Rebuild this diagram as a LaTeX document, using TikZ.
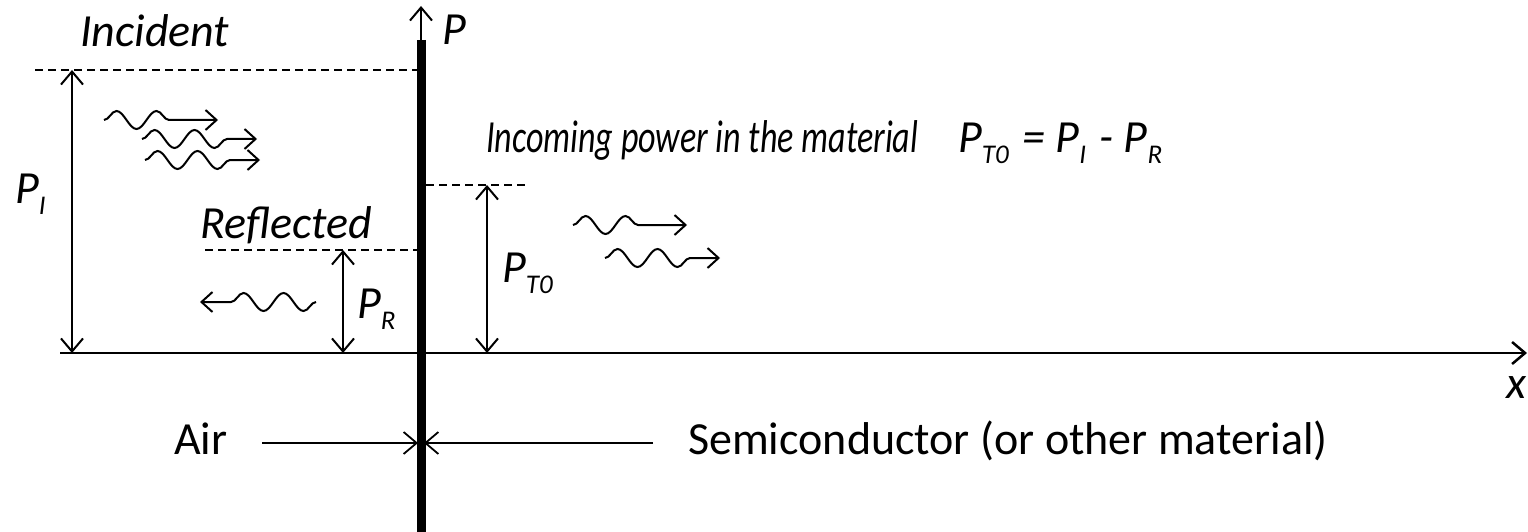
\documentclass[tikz,border=0pt]{standalone}
\usepackage{fontspec}
\setmainfont{Carlito}
\usepackage{tikz}
\usetikzlibrary{positioning, arrows.meta, decorations.pathmorphing}
\newcommand{\subidx}[1]{\raisebox{-11pt}{\fontsize{27}{27}\selectfont #1}\hspace{3pt}}

\begin{document}
\begin{tikzpicture}[x=1pt, y=-1pt, font=\fontsize{46}{52}\selectfont,
  barb/.style={-{Straight Barb[length=13pt, width=22pt]}, line width=2pt},
  dim/.style={{Straight Barb[length=13pt, width=22pt]}-{Straight Barb[length=13pt, width=22pt]}, line width=2pt},
  level/.style={line width=1.5pt, dash pattern=on 8pt off 5pt},
  wave/.style={line width=2pt, -{Straight Barb[length=11pt, width=20pt]}, decorate,
    decoration={snake, amplitude=9pt, segment length=40pt, post length=30pt}},
  lbl/.style={anchor=base west, inner sep=0pt, font=\fontsize{46}{52}\selectfont\itshape}]
  \useasboundingbox (0,0) rectangle (1528,532);

  % interface and axes
  \coordinate (bartop) at (421,40);
  \coordinate (barbot) at (421,540);
  \coordinate (ptip) at (421,6);
  \coordinate (xstart) at (60,353);
  \coordinate (xtip) at (1527,353);
  \draw[line width=9pt] (bartop) -- (barbot);
  \draw[barb] (bartop) -- (ptip);
  \draw[barb, line width=2.5pt] (xstart) -- (xtip);
  \node[lbl] (plbl) at (442,45) {P};
  \node[lbl] (xlbl) at (1506,398) {x};

  % power levels
  \coordinate (incL) at (35,70);    \coordinate (incR) at (417,70);
  \coordinate (refL) at (205,250);  \coordinate (refR) at (417,250);
  \coordinate (trL) at (426,185);   \coordinate (trR) at (528,185);
  \draw[level] (incL) -- (incR);
  \draw[level] (refL) -- (refR);
  \draw[level] (trL) -- (trR);

  \coordinate (piT) at (72,70);   \coordinate (piB) at (72,353);
  \coordinate (prT) at (343,250); \coordinate (prB) at (343,353);
  \coordinate (ptT) at (487,185); \coordinate (ptB) at (487,353);
  \draw[dim] (piT) -- (piB);
  \draw[dim] (prT) -- (prB);
  \draw[dim] (ptT) -- (ptB);

  \node[lbl] (incident) at (80,47) {Incident};
  \node[lbl] (reflected) at (200,238) {Reflected};
  \node[lbl] (pi) at (15,203) {P\subidx{I}};
  \node[lbl] (pr) at (357,318) {P\subidx{R}};
  \node[lbl] (pt) at (502,282) {P\subidx{T0}};
  \node[lbl] (incoming) at (486,153) {\scalebox{0.74}[1]{Incoming power in the material}};
  \node[lbl] (balance) at (958,153) {P\subidx{T0} = P\subidx{I} - P\subidx{R}};

  % waves
  \coordinate (w1s) at (104,120); \coordinate (w1e) at (218,120);
  \coordinate (w2s) at (142,139); \coordinate (w2e) at (257,139);
  \coordinate (w3s) at (145,160); \coordinate (w3e) at (260,160);
  \coordinate (w4s) at (316,302); \coordinate (w4e) at (200,302);
  \coordinate (w5s) at (573,225); \coordinate (w5e) at (687,225);
  \coordinate (w6s) at (605,258); \coordinate (w6e) at (720,258);
  \foreach \w in {1,...,6}
    \draw[wave] (w\w s) -- (w\w e);

  % media
  \node[anchor=base west, inner sep=0pt] (air) at (174,454) {Air};
  \node[anchor=base west, inner sep=0pt] (semi) at (688,454) {Semiconductor (or other material)};
  \coordinate (airS) at (262,443);  \coordinate (airE) at (418,443);
  \coordinate (semS) at (653,443);  \coordinate (semE) at (424,443);
  \draw[barb, line width=1.8pt] (airS) -- (airE);
  \draw[barb, line width=1.8pt] (semS) -- (semE);
\end{tikzpicture}
\end{document}
